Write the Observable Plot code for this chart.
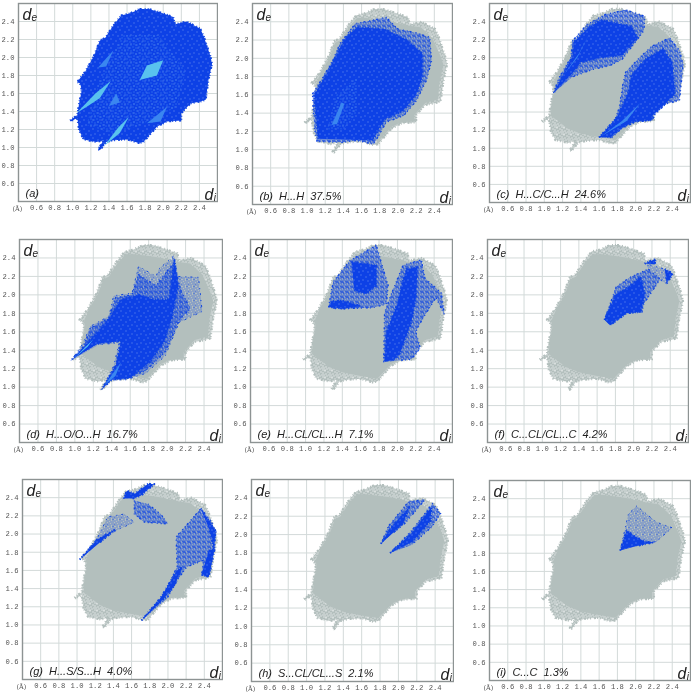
<!DOCTYPE html>
<html><head><meta charset="utf-8">
<script src="https://cdn.jsdelivr.net/npm/d3@7"></script>
<script src="https://cdn.jsdelivr.net/npm/@observablehq/plot@0.6"></script>
<style>html,body{margin:0;padding:0;background:#fff;width:691px;height:692px;overflow:hidden}#c{position:relative;width:691px;height:692px;filter:blur(0.35px)}</style>
</head><body>
<svg width="0" height="0" style="position:absolute">
<defs>
<pattern id="grayFringe" patternUnits="userSpaceOnUse" width="7" height="7">
<rect width="7" height="7" fill="#b3bfbd"/>
<g fill="#fff"><rect x="1" y="0" width="1" height="1"/><rect x="4" y="1" width="1" height="1"/><rect x="6" y="2" width="1" height="1"/><rect x="2" y="3" width="1" height="1"/><rect x="0" y="4" width="1" height="1"/><rect x="5" y="4" width="1" height="1"/><rect x="3" y="5" width="1" height="1"/><rect x="1" y="6" width="1" height="1"/><rect x="6" y="6" width="1" height="1"/></g>
</pattern>
<pattern id="blueSparse" patternUnits="userSpaceOnUse" width="7" height="7">
<g fill="#1247df"><rect x="0" y="0" width="1" height="1"/><rect x="3" y="0" width="1" height="1"/><rect x="5" y="1" width="1" height="1"/><rect x="1" y="2" width="1" height="1"/><rect x="3" y="2" width="1" height="1"/><rect x="6" y="3" width="1" height="1"/><rect x="2" y="4" width="1" height="1"/><rect x="4" y="4" width="1" height="1"/><rect x="0" y="5" width="1" height="1"/><rect x="5" y="5" width="1" height="1"/><rect x="3" y="6" width="1" height="1"/></g>
</pattern>
<pattern id="blueMid" patternUnits="userSpaceOnUse" width="5" height="5">
<g fill="#0f44e2"><rect x="0" y="0" width="2" height="1"/><rect x="3" y="0" width="1" height="2"/><rect x="1" y="1" width="1" height="2"/><rect x="4" y="2" width="1" height="1"/><rect x="2" y="3" width="2" height="1"/><rect x="0" y="3" width="1" height="2"/><rect x="3" y="4" width="2" height="1"/></g>
</pattern>
<pattern id="blueDense" patternUnits="userSpaceOnUse" width="9" height="9">
<rect width="9" height="9" fill="#0d41e6"/>
<g fill="#6f95ee"><rect x="2" y="1" width="1" height="1"/><rect x="7" y="3" width="1" height="1"/><rect x="4" y="6" width="1" height="1"/><rect x="0" y="7" width="1" height="1"/></g>
</pattern>
<pattern id="cyanSpeck" patternUnits="userSpaceOnUse" width="6" height="6">
<g fill="#3f86f0"><rect x="1" y="0" width="1" height="1"/><rect x="4" y="1" width="1" height="1"/><rect x="0" y="3" width="1" height="1"/><rect x="3" y="4" width="1" height="1"/></g>
</pattern>
</defs>
</svg>
<div id="c"></div>
<script>
const ticks = [0.6, 0.8, 1.0, 1.2, 1.4, 1.6, 1.8, 2.0, 2.2, 2.4];

// Whole fingerprint outline, [di, de]
const outline = [[0.97,1.30],[1.05,1.36],[1.07,1.49],[1.10,1.64],[1.08,1.71],[1.05,1.73],[1.135,1.84],[1.23,2.01],[1.30,2.19],[1.36,2.22],[1.45,2.36],[1.54,2.47],[1.63,2.49],[1.74,2.54],[1.84,2.54],[1.97,2.50],[2.11,2.45],[2.13,2.37],[2.26,2.40],[2.41,2.32],[2.45,2.23],[2.52,2.02],[2.54,1.93],[2.50,1.75],[2.47,1.53],[2.41,1.51],[2.30,1.49],[2.20,1.38],[2.20,1.30],[2.04,1.29],[1.93,1.23],[1.78,1.06],[1.73,1.05],[1.60,1.09],[1.45,1.08],[1.37,1.06],[1.30,0.97],[1.28,0.98],[1.34,1.08],[1.26,1.06],[1.12,1.09],[1.07,1.19],[1.05,1.33],[0.98,1.29]];
const outlineCore = [[1.07,1.36],[1.08,1.49],[1.11,1.64],[1.10,1.72],[1.15,1.84],[1.25,2.01],[1.31,2.17],[1.37,2.20],[1.46,2.34],[1.55,2.44],[1.65,2.44],[1.80,2.42],[1.95,2.40],[2.10,2.36],[2.25,2.34],[2.38,2.22],[2.47,2.02],[2.50,1.93],[2.46,1.75],[2.44,1.55],[2.30,1.51],[2.18,1.38],[2.18,1.31],[2.04,1.30],[1.93,1.25],[1.78,1.09],[1.60,1.12],[1.40,1.16],[1.25,1.22],[1.15,1.30]];

const aGlow = [[1.15,1.25],[1.30,1.75],[1.55,2.25],[1.95,2.25],[2.25,1.85],[2.15,1.45],[1.75,1.25],[1.45,1.15]];
const aStreakA = [[1.04,1.38],[1.25,1.60],[1.42,1.74],[1.30,1.55],[1.18,1.47]];
const aStreakB = [[1.35,1.02],[1.50,1.22],[1.62,1.34],[1.52,1.16]];
const aPatchA = [[1.74,1.75],[1.82,1.91],[2.00,1.97],[1.93,1.80]];
const aPatchB = [[1.28,1.89],[1.45,2.08],[1.37,1.90]];
const aPatchC = [[1.82,1.27],[2.04,1.45],[1.97,1.29]];
const aPatchD = [[1.40,1.46],[1.52,1.50],[1.48,1.60]];

const bFringe = [[1.07,1.39],[1.06,1.61],[1.16,1.77],[1.29,1.99],[1.36,2.16],[1.53,2.38],[1.69,2.41],[1.87,2.45],[2.00,2.32],[2.20,2.28],[2.35,2.23],[2.37,1.97],[2.31,1.75],[2.20,1.53],[2.06,1.37],[1.87,1.30],[1.80,1.17],[1.73,1.06],[1.55,1.10],[1.38,1.08],[1.11,1.09],[1.08,1.24]];
const bCore = [[1.12,1.12],[1.08,1.60],[1.22,1.84],[1.33,2.05],[1.42,2.22],[1.55,2.34],[1.85,2.32],[2.10,2.20],[2.27,2.05],[2.27,1.80],[2.20,1.60],[2.05,1.42],[1.85,1.33],[1.72,1.10]];
const bGlow = [[1.22,1.22],[1.32,1.60],[1.55,1.80],[1.55,1.40],[1.40,1.22]];
const bLight = [[1.27,1.27],[1.38,1.52],[1.41,1.50],[1.33,1.28]];

const cUpperFringe = [[1.10,1.61],[1.16,1.78],[1.29,2.00],[1.31,2.19],[1.47,2.37],[1.67,2.48],[1.89,2.53],[2.10,2.46],[2.09,2.30],[1.98,2.15],[1.85,1.98],[1.71,1.91],[1.53,1.87],[1.31,1.79]];
const cUpperCore = [[1.11,1.62],[1.20,1.80],[1.31,2.02],[1.32,2.17],[1.48,2.33],[1.62,2.42],[1.80,2.38],[1.95,2.35],[2.02,2.22],[1.85,2.03],[1.62,2.00],[1.40,1.95],[1.30,1.82]];
const cLowerFringe = [[1.60,1.12],[1.76,1.27],[1.82,1.45],[1.86,1.71],[1.89,1.84],[2.04,2.00],[2.18,2.13],[2.37,2.22],[2.48,2.08],[2.52,1.93],[2.48,1.53],[2.33,1.49],[2.20,1.36],[2.19,1.31],[2.00,1.29],[1.85,1.22],[1.73,1.11]];
const cLowerCore = [[1.60,1.12],[1.80,1.35],[1.92,1.62],[1.95,1.80],[2.10,1.98],[2.30,2.10],[2.40,1.95],[2.43,1.60],[2.33,1.50],[2.18,1.36],[2.17,1.31],[2.00,1.30],[1.85,1.23],[1.72,1.12]];
const cLightA = [[1.62,1.13],[1.85,1.30],[2.05,1.50],[1.90,1.30]];
const cLightB = [[1.22,1.82],[1.38,2.05],[1.50,2.28],[1.36,2.00]];

const dFringe = [[0.96,1.29],[1.08,1.46],[1.17,1.66],[1.37,1.77],[1.42,1.99],[1.62,2.02],[1.69,2.31],[1.88,2.20],[1.91,2.28],[2.07,2.42],[2.11,2.20],[2.34,2.19],[2.38,1.82],[2.13,1.70],[1.98,1.34],[1.77,1.15],[1.55,1.08],[1.39,1.08],[1.29,0.97],[1.42,1.23],[1.48,1.48],[1.26,1.46]];
const dMiddle = [[1.10,1.46],[1.17,1.64],[1.37,1.75],[1.44,1.97],[1.62,2.00],[1.69,2.22],[1.88,2.10],[2.07,2.35],[2.15,2.05],[2.25,1.85],[2.13,1.72],[1.98,1.38],[1.77,1.18],[1.55,1.09],[1.42,1.10],[1.44,1.23],[1.50,1.50],[1.26,1.48]];
const dCore = [[0.97,1.30],[1.15,1.50],[1.30,1.66],[1.38,1.76],[1.50,1.95],[1.70,2.00],[1.85,1.95],[2.02,1.95],[2.08,2.38],[2.12,2.10],[2.05,1.75],[1.97,1.50],[1.82,1.28],[1.60,1.10],[1.40,1.08],[1.30,0.99],[1.45,1.25],[1.50,1.50],[1.25,1.47]];
const dLightA = [[0.99,1.31],[1.20,1.52],[1.14,1.44]];
const dLightB = [[1.32,1.02],[1.50,1.27],[1.44,1.12]];

const eLeftFringe = [[1.25,1.87],[1.30,2.14],[1.48,2.37],[1.77,2.54],[1.84,2.30],[1.90,2.10],[1.88,1.90],[1.72,1.86],[1.41,1.85],[1.30,1.85]];
const eLeftCoreA = [[1.50,2.36],[1.77,2.32],[1.77,2.10],[1.66,2.01],[1.53,2.05]];
const eLeftCoreB = [[1.25,1.87],[1.41,1.85],[1.60,1.88],[1.40,1.94],[1.28,1.93]];
const eRightFringe = [[1.85,1.27],[1.86,1.81],[1.93,2.00],[2.06,2.32],[2.26,2.38],[2.30,2.18],[2.48,2.02],[2.51,1.79],[2.42,1.97],[2.28,1.75],[2.20,1.60],[2.25,1.42],[2.15,1.30],[2.00,1.29]];
const eRightCore = [[1.86,1.28],[1.88,1.60],[2.00,1.90],[2.05,2.12],[2.10,2.28],[2.22,2.30],[2.20,1.95],[2.15,1.70],[2.02,1.35],[1.95,1.29]];

const fFringe = [[1.68,1.73],[1.81,2.09],[1.96,2.19],[2.16,2.28],[2.29,2.17],[2.11,1.90],[2.09,1.81],[1.92,1.80],[1.74,1.67]];
const fCore = [[1.68,1.73],[1.80,2.00],[1.95,2.09],[2.08,2.20],[2.12,2.00],[2.08,1.82],[1.92,1.80],[1.74,1.67]];
const fTop = [[2.12,2.34],[2.24,2.39],[2.23,2.33]];
const fRight = [[2.34,2.28],[2.43,2.23],[2.36,2.12]];
const fLink = [[2.12,2.34],[2.34,2.28],[2.36,2.12],[2.23,2.20]];

const gLeftFringe = [[1.03,1.72],[1.22,1.95],[1.34,2.19],[1.52,2.22],[1.63,2.13],[1.43,2.04],[1.23,1.89]];
const gLeftCore = [[1.03,1.72],[1.22,1.94],[1.42,2.05],[1.23,1.89]];
const gTop = [[1.51,2.39],[1.55,2.48],[1.63,2.44],[1.78,2.55],[1.85,2.55],[1.70,2.42],[1.61,2.39]];
const gMiddle = [[1.63,2.37],[1.63,2.22],[1.74,2.13],[2.00,2.11],[1.92,2.22],[1.78,2.33]];
const gRightFringe = [[1.71,1.05],[1.95,1.33],[2.10,1.64],[2.09,1.97],[2.25,2.15],[2.36,2.28],[2.47,2.15],[2.53,2.02],[2.49,1.78],[2.45,1.53],[2.37,1.55],[2.39,1.71],[2.21,1.64],[2.10,1.49],[1.99,1.29]];
const gRightStreak = [[1.71,1.05],[1.92,1.30],[2.10,1.60],[2.16,1.64],[2.07,1.43],[1.92,1.25]];
const gRightBar = [[2.37,1.55],[2.45,1.53],[2.51,1.82],[2.45,1.83]];
const gRightEdge = [[2.36,2.28],[2.52,2.04],[2.51,1.82],[2.46,2.04]];

const hUpper = [[1.81,1.90],[1.89,2.09],[2.11,2.36],[2.29,2.38],[2.07,2.12],[1.93,2.01]];
const hUpperCore = [[1.81,1.90],[1.92,2.08],[2.12,2.30],[2.05,2.12],[1.93,2.01]];
const hLower = [[1.91,1.80],[2.15,2.05],[2.37,2.34],[2.46,2.23],[2.37,2.09],[2.15,1.89]];
const hLowerCore = [[1.91,1.80],[2.15,2.02],[2.36,2.30],[2.35,2.15],[2.15,1.92]];

const iFringe = [[1.83,1.83],[1.92,2.23],[2.01,2.32],[2.23,2.14],[2.40,2.08],[2.23,1.93],[2.01,1.88]];
const iCore = [[1.83,1.83],[1.90,2.05],[2.00,1.98],[2.10,1.93],[2.20,1.92],[2.01,1.88]];

const SPARSE = "url(#blueSparse)", MIDD = "url(#blueMid)", DENSE = "url(#blueDense)", SPECK = "url(#cyanSpeck)", LIGHT = "#59c2ee", MID = "#3a86f0";
const panels = [
 {box:[18,3,199,198], label:"(a)", layers:[[outline,DENSE],[aGlow,SPECK],[aStreakA,LIGHT],[aStreakB,LIGHT],[aPatchA,LIGHT],[aPatchB,MID],[aPatchC,MID],[aPatchD,MID]], gray:false},
 {box:[252,3,200,201], label:"(b)\u00a0\u00a0H...H\u00a0\u00a037.5%", layers:[[bFringe,MIDD],[bCore,DENSE],[bGlow,SPECK],[bLight,MID]], gray:true},
 {box:[489,3,201,199], label:"(c)\u00a0\u00a0H...C/C...H\u00a0\u00a024.6%", layers:[[cUpperFringe,MIDD],[cLowerFringe,MIDD],[cUpperCore,DENSE],[cLowerCore,DENSE],[cLightA,MID],[cLightB,MID]], gray:true},
 {box:[19,239,203,203], label:"(d)\u00a0\u00a0H...O/O...H\u00a0\u00a016.7%", layers:[[dFringe,SPARSE],[dMiddle,MIDD],[dCore,DENSE],[dLightA,LIGHT],[dLightB,MID]], gray:true},
 {box:[250,239,202,203], label:"(e)\u00a0\u00a0H...CL/CL...H\u00a0\u00a07.1%", layers:[[eLeftFringe,MIDD],[eRightFringe,MIDD],[eLeftCoreA,DENSE],[eLeftCoreB,DENSE],[eRightCore,DENSE]], gray:true},
 {box:[487,239,201,203], label:"(f)\u00a0\u00a0C...CL/CL...C\u00a0\u00a04.2%", layers:[[fFringe,MIDD],[fLink,SPARSE],[fCore,DENSE],[fTop,DENSE],[fRight,DENSE]], gray:true},
 {box:[22,479,200,200], label:"(g)\u00a0\u00a0H...S/S...H\u00a0\u00a04.0%", layers:[[gLeftFringe,SPARSE],[gMiddle,MIDD],[gRightFringe,MIDD],[gLeftCore,DENSE],[gTop,DENSE],[gRightStreak,DENSE],[gRightBar,DENSE],[gRightEdge,DENSE]], gray:true},
 {box:[251,479,202,202], label:"(h)\u00a0\u00a0S...CL/CL...S\u00a0\u00a02.1%", layers:[[hUpper,MIDD],[hLower,MIDD],[hUpperCore,DENSE],[hLowerCore,DENSE]], gray:true},
 {box:[489,480,201,200], label:"(i)\u00a0\u00a0C...C\u00a0\u00a01.3%", layers:[[iFringe,SPARSE],[iCore,DENSE]], gray:true}
];

const poly = (pts, fill, stroke = "none", strokeWidth = 1, dash = null) =>
  Plot.line(pts, {x: d => d[0], y: d => d[1], fill, stroke, strokeWidth, strokeDasharray: dash, strokeLinecap: "butt"});
const edged = (pts, f) =>
  f === DENSE ? poly(pts, f, "#0f44e2", 2, "1 2 1 1 2 3")
  : f === MIDD ? poly(pts, f, "#0f44e2", 1.3, "1 3 1 2 2 4")
  : f === SPARSE ? poly(pts, f, "#1247df", 1, "1 4 2 5")
  : poly(pts, f);
const tickFont = {fontFamily: "Liberation Mono", fontSize: 7.2, fill: "#555"};
const sans = {fontFamily: "Liberation Sans", fontStyle: "italic", fill: "#222"};
const ML = 18, MT = 2, MR = 1, MB = 11;

for (const p of panels) {
  const [l, t, w, h] = p.box;
  const svg = Plot.plot({
    width: ML + w + MR, height: MT + h + MB,
    marginLeft: ML, marginTop: MT, marginRight: MR, marginBottom: MB,
    x: {domain: [0.4, 2.6]}, y: {domain: [0.4, 2.6]},
    style: {position: "absolute", left: (l - ML) + "px", top: (t - MT) + "px", background: "transparent", maxWidth: "none"},
    marks: [
      Plot.gridX(ticks, {stroke: "#d3dad9", strokeOpacity: 1}),
      Plot.gridY(ticks, {stroke: "#d3dad9", strokeOpacity: 1}),
      ...(p.gray ? [poly(outline, "url(#grayFringe)", "#b3bfbd", 2.2, "1 2 1 1 2 3"), poly(outlineCore, "#b3bfbd")] : []),
      ...p.layers.map(([pts, f]) => edged(pts, f)),
      Plot.axisX(ticks, {tickSize: 0, tickPadding: 3, tickFormat: ".1f", label: null, ...tickFont}),
      Plot.axisY(ticks, {tickSize: 0, tickPadding: 4, tickFormat: ".1f", label: null, ...tickFont}),
      Plot.frame({stroke: "#8d9393", strokeWidth: 1.4}),
      Plot.text(["d"], {frameAnchor: "top-left", lineAnchor: "bottom", dx: 4, dy: 16, fontSize: 16, ...sans}),
      Plot.text(["e"], {frameAnchor: "top-left", lineAnchor: "bottom", dx: 13, dy: 17, fontSize: 10, ...sans}),
      Plot.text(["d"], {frameAnchor: "bottom-right", lineAnchor: "bottom", dx: -4, dy: -2, fontSize: 16, ...sans}),
      Plot.text(["i"], {frameAnchor: "bottom-right", lineAnchor: "bottom", dx: -1.5, dy: -1, fontSize: 10, ...sans}),
      Plot.text([p.label], {frameAnchor: "bottom-left", lineAnchor: "bottom", dx: 7, dy: -5, fontSize: 11, ...sans}),
      Plot.text(["(Å)"], {frameAnchor: "bottom-left", lineAnchor: "middle", dx: -6, dy: 7, fontFamily: "DejaVu Serif", fontSize: 6.5, fill: "#555"})
    ]
  });
  document.getElementById("c").appendChild(svg);
}
</script>
</body></html>
